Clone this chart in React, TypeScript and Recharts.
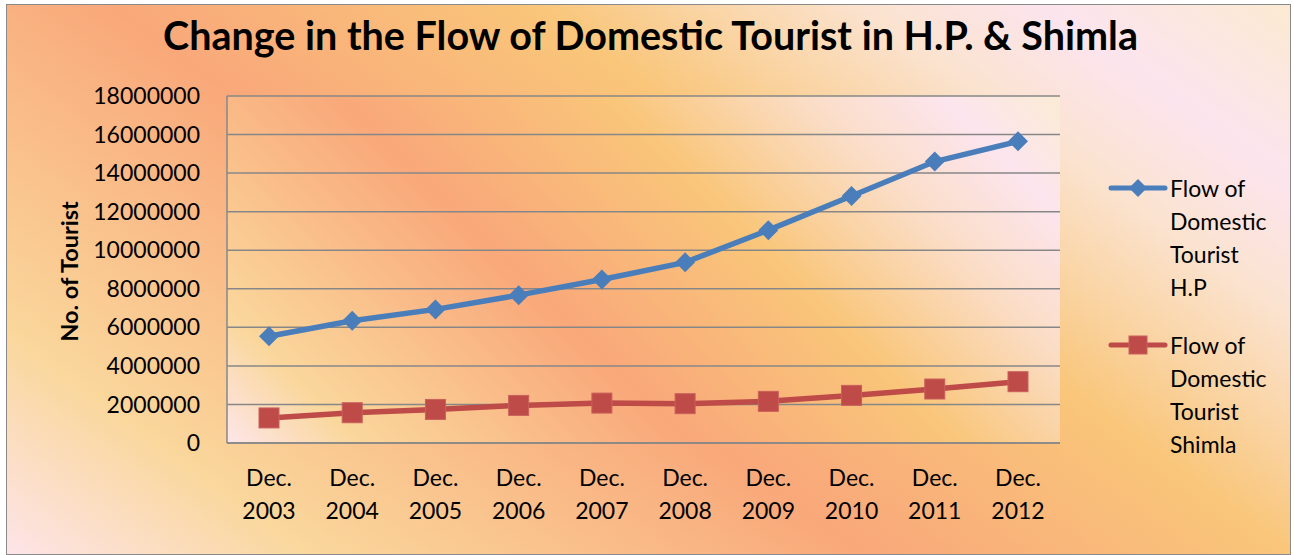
import React from 'react';
import {
  LineChart, Line, XAxis, YAxis, CartesianGrid, Legend
} from 'recharts';

const FONT = 'Lato, "Open Sans", sans-serif';

// periods and tourist counts
const periods = [
  'Dec. 2003', 'Dec. 2004', 'Dec. 2005', 'Dec. 2006', 'Dec. 2007',
  'Dec. 2008', 'Dec. 2009', 'Dec. 2010', 'Dec. 2011', 'Dec. 2012'
];
const hpFlow = [
  5540000, 6340000, 6930000, 7670000, 8480000,
  9370000, 11040000, 12810000, 14600000, 15650000
];
const shimlaFlow = [
  1300000, 1570000, 1740000, 1950000, 2070000,
  2040000, 2160000, 2470000, 2800000, 3180000
];
const yTicks = [0, 2000000, 4000000, 6000000, 8000000, 10000000, 12000000, 14000000, 16000000, 18000000];

const BLUE = '#4A7EBB';
const RED = '#BE4B48';
const GRID = '#878787';

const data = periods.map((period, i) => ({
  period,
  hp: hpFlow[i],
  shimla: shimlaFlow[i],
}));

const Diamond = ({ cx, cy, fill, size = 10 }: any) => {
  if (cx == null || cy == null) return null;
  return (
    <path
      d={`M${cx},${cy - size} L${cx + size},${cy} L${cx},${cy + size} L${cx - size},${cy} Z`}
      fill={fill}
    />
  );
};

const Square = ({ cx, cy, fill, size = 10 }: any) => {
  if (cx == null || cy == null) return null;
  return (
    <rect x={cx - size} y={cy - size} width={size * 2} height={size * 2}
      fill={fill} stroke="#C9605C" strokeWidth={1} />
  );
};

const PeriodTick = ({ x, y, payload }: any) => {
  const [month, year] = String(payload.value).split(' ');
  return (
    <text x={x} y={y} textAnchor="middle" fontFamily={FONT} fontSize={23} fill="#000">
      <tspan x={x} dy={43}>{month}</tspan>
      <tspan x={x} dy={33}>{year}</tspan>
    </text>
  );
};

const YTitle = ({ viewBox }: any) => {
  const x = viewBox.x - 8;
  const y = viewBox.y + viewBox.height / 2 + 2;
  return (
    <text x={x} y={y} transform={`rotate(-90, ${x}, ${y})`} textAnchor="middle"
      dominantBaseline="central" fontFamily={FONT} fontWeight="bold" fontSize={23.5} fill="#000">
      No. of Tourist
    </text>
  );
};

const renderLegend = ({ payload }: any) => (
  <div style={{ fontFamily: FONT, fontSize: 23, lineHeight: '33px', color: '#000' }}>
    {(payload || []).map((entry: any, i: number) => (
      <div key={i} style={{ display: 'flex', alignItems: 'flex-start', marginBottom: i === 0 ? 25 : 0 }}>
        <svg width={60} height={33}>
          <line x1={3} y1={16} x2={57} y2={16} stroke={entry.color} strokeWidth={5} strokeLinecap="round" />
          {entry.dataKey === 'hp'
            ? <Diamond cx={30} cy={16} fill={entry.color} size={9} />
            : <Square cx={30} cy={16} fill={entry.color} size={9} />}
        </svg>
        <div style={{ width: 108, marginLeft: 2 }}>{entry.value}</div>
      </div>
    ))}
  </div>
);

const App: React.FC = () => {
  return (
    <div style={{ position: 'absolute', left: 0, top: 0, width: 1294, height: 555, overflow: 'hidden' }}>
      <div style={{
        position: 'absolute', left: 6, top: 4, width: 1285, height: 551,
        boxSizing: 'border-box', border: '1.5px solid #8a8a8a',
        background: 'linear-gradient(36deg, #FDE4E8 0%, #FAD79C 15%, #F9A87A 42%, #F9C67A 63%, #FBE3D0 79%, #FCE4EE 88%, #FBEAD2 100%)'
      }} />
      <div style={{
        position: 'absolute', left: 0, width: 1301, top: 8, textAlign: 'center',
        fontFamily: FONT, fontWeight: 'bold', fontSize: 39.5, color: '#000', lineHeight: '54px'
      }}>
        Change in the Flow of Domestic Tourist in H.P. &amp; Shimla
      </div>
      <div style={{ position: 'absolute', left: 0, top: 0 }}>
        <LineChart width={1294} height={555} data={data}
          margin={{ top: 96, right: 234, bottom: 32, left: 77 }}>
          <defs>
            <linearGradient id="plotBg" gradientUnits="userSpaceOnUse" x1={227} y1={443} x2={817} y2={-147}>
              <stop offset="0%" stopColor="#FDE6EA" />
              <stop offset="11%" stopColor="#FAD79C" />
              <stop offset="39%" stopColor="#F9A87A" />
              <stop offset="62%" stopColor="#F9C67A" />
              <stop offset="78%" stopColor="#FBDDC6" />
              <stop offset="90%" stopColor="#FCE5EE" />
              <stop offset="100%" stopColor="#FBEBD4" />
            </linearGradient>
          </defs>
          <CartesianGrid vertical={false} stroke={GRID} strokeWidth={1.5} fill="url(#plotBg)" />
          <XAxis dataKey="period" height={80} padding={{ left: 42, right: 42 }}
            axisLine={{ stroke: GRID, strokeWidth: 1.5 }} tickLine={false}
            tickSize={0} tickMargin={0} interval={0} tick={<PeriodTick />} />
          <YAxis width={150} domain={[0, 18000000]} ticks={yTicks} interval={0}
            axisLine={{ stroke: GRID, strokeWidth: 1.5 }} tickLine={false} tickSize={0} tickMargin={27}
            tick={{ fontFamily: FONT, fontSize: 23, fill: '#000' }}
            label={<YTitle />} />
          <Legend layout="vertical" align="center" verticalAlign="middle"
            wrapperStyle={{ left: 1108, top: 172, width: 180 }} content={renderLegend} />
          <Line type="linear" dataKey="hp" name="Flow of Domestic Tourist H.P"
            stroke={BLUE} strokeWidth={5.5} isAnimationActive={false}
            dot={<Diamond fill={BLUE} size={10} />} activeDot={false} />
          <Line type="linear" dataKey="shimla" name="Flow of Domestic Tourist Shimla"
            stroke={RED} strokeWidth={5.5} isAnimationActive={false}
            dot={<Square fill={RED} size={10} />} activeDot={false} />
        </LineChart>
      </div>
    </div>
  );
};

export default App;
